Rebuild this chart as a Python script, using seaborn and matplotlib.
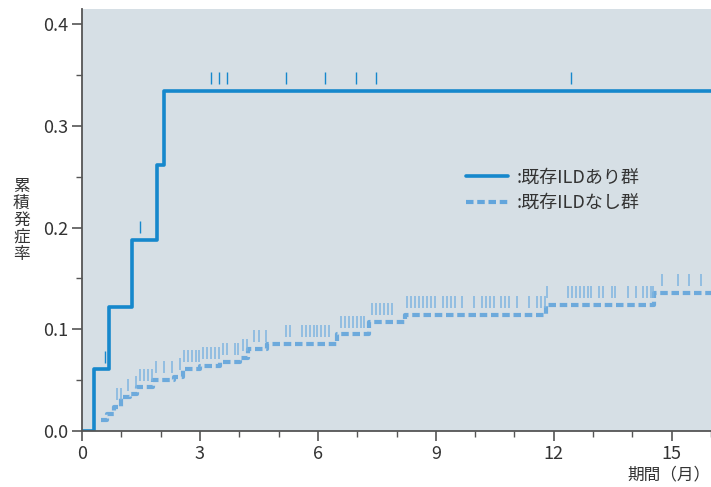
import matplotlib
matplotlib.use("Agg")
import matplotlib.pyplot as plt
import numpy as np
import pandas as pd
import seaborn as sns
from matplotlib.lines import Line2D
from matplotlib.ticker import MultipleLocator

# cumulative incidence, group with pre-existing ILD
ILD_TIMES = [0.0, 0.30, 0.68, 1.27, 1.90, 2.09]
ILD_RISK = [0.0, 0.0606, 0.1216, 0.188, 0.262, 0.3345]
ILD_CENSOR = [0.58, 1.48, 3.28, 3.49, 3.68, 5.18, 6.18, 6.97, 7.47, 12.44]

# group without pre-existing ILD
NO_ILD_TIMES = [0.48, 0.63, 0.81, 1.00, 1.22, 1.40, 1.80, 2.33, 2.57, 3.00,
                3.50, 4.02, 4.21, 4.70, 6.48, 7.29, 8.22, 11.80, 14.54]
NO_ILD_RISK = [0.0108, 0.0165, 0.024, 0.033, 0.036, 0.043, 0.050, 0.053, 0.061, 0.064,
               0.068, 0.072, 0.081, 0.086, 0.095, 0.107, 0.114, 0.124, 0.136]
NO_ILD_CENSOR = [0.88, 0.98, 1.18, 1.37, 1.48, 1.58, 1.67, 1.77, 1.88, 2.09, 2.29, 2.49,
                 2.59, 2.69, 2.79, 2.89, 2.98, 3.09, 3.19, 3.29, 3.39, 3.48, 3.59, 3.69,
                 3.88, 3.97, 4.09, 4.19, 4.38, 4.49, 4.67,
                 5.18, 5.28, 5.59, 5.69, 5.79, 5.89, 5.99, 6.09, 6.19, 6.28,
                 6.58, 6.68, 6.79, 6.89, 6.99, 7.09, 7.18,
                 7.37, 7.47, 7.58, 7.68, 7.78, 7.88,
                 8.26, 8.36, 8.47, 8.57, 8.67, 8.77, 8.87, 8.97, 9.18, 9.28, 9.38, 9.48,
                 9.67, 9.97, 10.18, 10.28, 10.38, 10.48, 10.67, 10.77, 10.87, 11.06,
                 11.37, 11.57, 11.67, 11.77,
                 11.84, 12.37, 12.47, 12.57, 12.67, 12.77, 12.88, 12.96, 13.16, 13.26,
                 13.47, 13.57, 13.88, 14.08, 14.28, 14.37, 14.47, 14.52,
                 14.75, 15.15, 15.45, 15.75]

LABELS = [":既存ILDあり群", ":既存ILDなし群"]
X_TICKS = [0, 3, 6, 9, 12, 15]
Y_TICKS = [0.0, 0.1, 0.2, 0.3, 0.4]
X_MAX = 16

ILD_COLOR = "#1688cc"
NO_ILD_COLOR = "#62a5dc"
NO_ILD_MARK = "#7fb5e0"
BG = "#d6dfe5"
AXIS = "#555555"
MARK_OFFSET = 0.0125


def step_frame(times, risk):
    return pd.DataFrame({"time": list(times) + [X_MAX], "risk": list(risk) + [risk[-1]]})


def risk_at(times, risk, t):
    idx = np.searchsorted(times, t, side="right") - 1
    return np.where(idx >= 0, np.asarray(risk)[np.clip(idx, 0, None)], 0.0)


sns.set_style("white")
plt.rcParams["font.family"] = ["Noto Sans CJK JP", "DejaVu Sans"]

fig = plt.figure(figsize=(7.11, 4.87), dpi=100)
ax = fig.add_axes([82 / 711, 1 - 431 / 487, 629 / 711, 422 / 487])
ax.set_facecolor(BG)

sns.lineplot(data=step_frame(NO_ILD_TIMES, NO_ILD_RISK), x="time", y="risk", ax=ax,
             estimator=None, drawstyle="steps-post", color=NO_ILD_COLOR,
             linewidth=3.0, linestyle=(0, (1.8, 0.9)), alpha=0.9)
sns.lineplot(data=step_frame(ILD_TIMES, ILD_RISK), x="time", y="risk", ax=ax,
             estimator=None, drawstyle="steps-post", color=ILD_COLOR, linewidth=2.6)

no_ild_marks = risk_at(NO_ILD_TIMES, NO_ILD_RISK, NO_ILD_CENSOR) + MARK_OFFSET
ax.plot(NO_ILD_CENSOR, no_ild_marks, linestyle="none", marker="|",
        markersize=8.5, markeredgewidth=1.1, color=NO_ILD_MARK)
ild_marks = risk_at(ILD_TIMES, ILD_RISK, ILD_CENSOR) + MARK_OFFSET
ax.plot(ILD_CENSOR, ild_marks, linestyle="none", marker="|",
        markersize=8.5, markeredgewidth=1.0, color=ILD_COLOR)

ax.set_xlim(0, X_MAX)
ax.set_ylim(0, 0.415)
ax.set_xticks(X_TICKS)
ax.set_yticks(Y_TICKS)
ax.set_yticklabels([f"{v:.1f}" for v in Y_TICKS])
ax.xaxis.set_minor_locator(MultipleLocator(1))
ax.yaxis.set_minor_locator(MultipleLocator(0.05))
ax.set_xlabel("")
ax.set_ylabel("")

for side in ["top", "right"]:
    ax.spines[side].set_visible(False)
for side in ["left", "bottom"]:
    ax.spines[side].set_color(AXIS)
    ax.spines[side].set_linewidth(1.3)

ax.tick_params(which="major", direction="out", length=7, width=1.2, color=AXIS,
               labelsize=13, labelcolor="#333333", pad=3,
               left=True, bottom=True)
ax.tick_params(which="minor", direction="out", length=4, width=1.0, color=AXIS,
               left=True, bottom=True)

handles = [
    Line2D([], [], color=ILD_COLOR, linewidth=2.6),
    Line2D([], [], color=NO_ILD_COLOR, linewidth=3.0, linestyle=(0, (1.8, 0.9))),
]
ax.legend(handles, LABELS, loc="center left", bbox_to_anchor=(0.585, 0.571),
          frameon=False, fontsize=13, handlelength=2.33, handletextpad=0.45,
          labelspacing=0.42, labelcolor="#333333")

fig.text(0.030, 0.548, "累\n積\n発\n症\n率", ha="center", va="center",
         fontsize=12, linespacing=1.0, color="#333333")
fig.text(0.999, 0.024, "期間（月）", ha="right", va="center", fontsize=12,
         color="#333333")

fig.savefig("out.png", dpi=100)
